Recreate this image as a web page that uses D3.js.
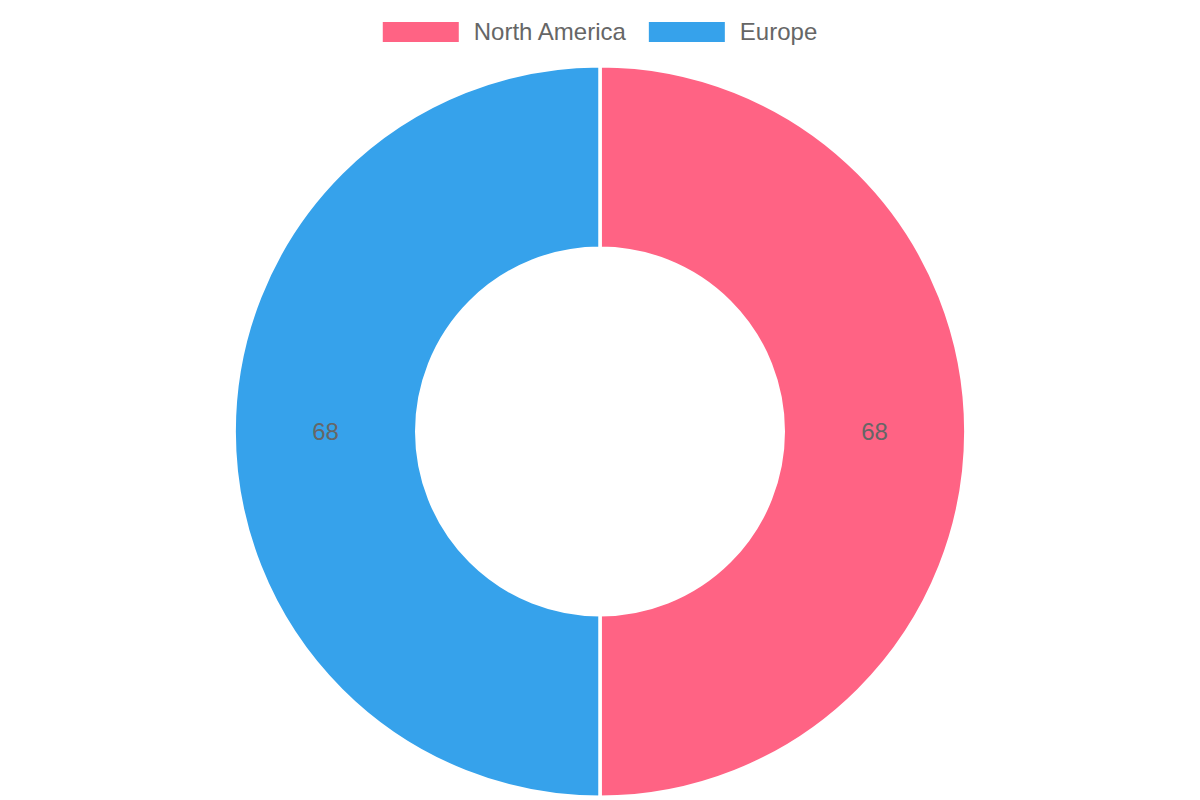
<!DOCTYPE html>
<html>
<head>
<meta charset="utf-8">
<script src="https://cdn.jsdelivr.net/npm/d3@7"></script>
<style>
  html, body { margin: 0; padding: 0; background: #fff; }
  svg { display: block; font-family: "Liberation Sans", Arial, Helvetica, sans-serif; }
</style>
</head>
<body>
<svg id="chart"></svg>
<script>
// data
const regions = ['North America', 'Europe']
const values = [68, 68]
const colors = ['#FF6384', '#36A2EB']

const size = { width: 1200, height: 800 }
const svg = d3.select('#chart')
  .attr('width', size.width)
  .attr('height', size.height)

const cx = 600
const cy = 431.5
const outer = 364
const inner = 185
const border = 3.5

// donut
const pie = d3.pie().sort(null).value(d => d)
const arcs = pie(values)
const arc = d3.arc()
  .innerRadius(inner - border / 2)
  .outerRadius(outer + border / 2)
const labelArc = d3.arc().innerRadius(inner).outerRadius(outer)

const root = svg.append('g').attr('transform', `translate(${cx},${cy})`)

root.selectAll('.slice')
  .data(arcs)
  .enter()
  .append('path')
  .attr('class', 'slice')
  .attr('d', arc)
  .attr('fill', (d, i) => colors[i])
  .attr('stroke', '#fff')
  .attr('stroke-width', border)

root.selectAll('.val')
  .data(arcs)
  .enter()
  .append('text')
  .attr('class', 'val')
  .attr('transform', d => `translate(${labelArc.centroid(d)})`)
  .attr('text-anchor', 'middle')
  .attr('dy', '0.35em')
  .attr('font-size', 24)
  .attr('fill', '#666')
  .text(d => d.data)

// legend
const boxW = 76
const boxH = 20
const textGap = 15
const itemGap = 23
const legend = svg.append('g').attr('class', 'legend')
const items = legend.selectAll('.item')
  .data(regions)
  .enter()
  .append('g')
  .attr('class', 'item')

items.append('rect')
  .attr('width', boxW)
  .attr('height', boxH)
  .attr('y', 22)
  .attr('fill', (d, i) => colors[i])

items.append('text')
  .attr('x', boxW + textGap)
  .attr('y', 32)
  .attr('dy', '0.35em')
  .attr('font-size', 24)
  .attr('fill', '#666')
  .text(d => d)

// place the items side by side, centred
let widths = []
items.each(function () {
  const t = d3.select(this).select('text').node().getComputedTextLength()
  widths.push(boxW + textGap + t)
})
const total = d3.sum(widths) + itemGap * (widths.length - 1)
let x = size.width / 2 - total / 2
items.attr('transform', (d, i) => {
  const tx = x
  x += widths[i] + itemGap
  return `translate(${tx},0)`
})
</script>
</body>
</html>
